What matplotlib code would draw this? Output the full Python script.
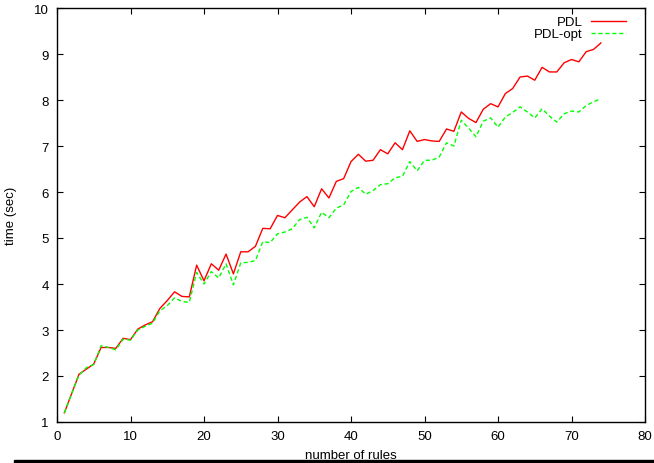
import numpy as np
import matplotlib
matplotlib.use('Agg')
import matplotlib.pyplot as plt
from matplotlib.patches import Rectangle

rules = list(range(1, 75))

pdl = [1.20, 1.62, 2.04, 2.15, 2.26, 2.62, 2.62, 2.60, 2.82, 2.79,
       3.02, 3.11, 3.18, 3.47, 3.64, 3.83, 3.73, 3.72, 4.41, 4.07,
       4.44, 4.30, 4.65, 4.22, 4.70, 4.70, 4.82, 5.21, 5.20, 5.49,
       5.44, 5.61, 5.78, 5.90, 5.68, 6.07, 5.87, 6.23, 6.29, 6.66,
       6.82, 6.67, 6.69, 6.92, 6.83, 7.07, 6.92, 7.33, 7.10, 7.14,
       7.11, 7.10, 7.37, 7.32, 7.74, 7.60, 7.51, 7.80, 7.92, 7.85,
       8.14, 8.25, 8.50, 8.52, 8.43, 8.71, 8.61, 8.61, 8.81, 8.88,
       8.83, 9.05, 9.10, 9.24]

pdl_opt = [1.20, 1.62, 2.02, 2.18, 2.25, 2.66, 2.62, 2.57, 2.80, 2.78,
           3.00, 3.08, 3.15, 3.42, 3.53, 3.70, 3.62, 3.60, 4.25, 4.00,
           4.27, 4.13, 4.44, 3.98, 4.46, 4.47, 4.51, 4.92, 4.90, 5.09,
           5.13, 5.20, 5.40, 5.45, 5.22, 5.56, 5.44, 5.65, 5.72, 6.01,
           6.10, 5.95, 6.03, 6.16, 6.18, 6.31, 6.34, 6.66, 6.46, 6.69,
           6.69, 6.76, 7.07, 7.00, 7.56, 7.39, 7.20, 7.54, 7.61, 7.41,
           7.63, 7.73, 7.85, 7.74, 7.61, 7.81, 7.65, 7.52, 7.70, 7.76,
           7.74, 7.88, 7.96, 8.03]

plt.rcParams['font.family'] = ['Liberation Sans', 'DejaVu Sans']

fig = plt.figure(figsize=(6.54, 4.64), dpi=100)
ax = fig.add_axes([57 / 654, 1 - 423 / 464, 588 / 654, 414 / 464])

ax.plot(rules, pdl, color='#ff0000', lw=1.0, label='PDL')
ax.plot(rules, pdl_opt, color='#00ff00', lw=1.0, dashes=(3, 2), label='PDL-opt')

ax.set_xlim(0, 80)
ax.set_ylim(1, 10)
ax.set_xticks(range(0, 81, 10))
ax.set_yticks(range(1, 11))
ax.tick_params(direction='in', length=4, width=0.8, top=True, right=True,
               labelsize=9.5, pad=6)
for s in ax.spines.values():
    s.set_linewidth(1.0)

ax.set_xlabel('number of rules', fontsize=9.5, labelpad=5)
ax.set_ylabel('time (sec)', fontsize=9.5, labelpad=12)

ax.legend(loc='upper right', frameon=False, markerfirst=False, fontsize=9.5,
          handlelength=2.7, handletextpad=0.6, labelspacing=0.0,
          borderaxespad=0.2, bbox_to_anchor=(0.982, 1.0))

# thick rule at the bottom of the page
fig.patches.append(Rectangle((14 / 654, 0), 1, 3.5 / 464, transform=fig.transFigure,
                             color='black', zorder=5))

plt.savefig('out.png', dpi=100)
